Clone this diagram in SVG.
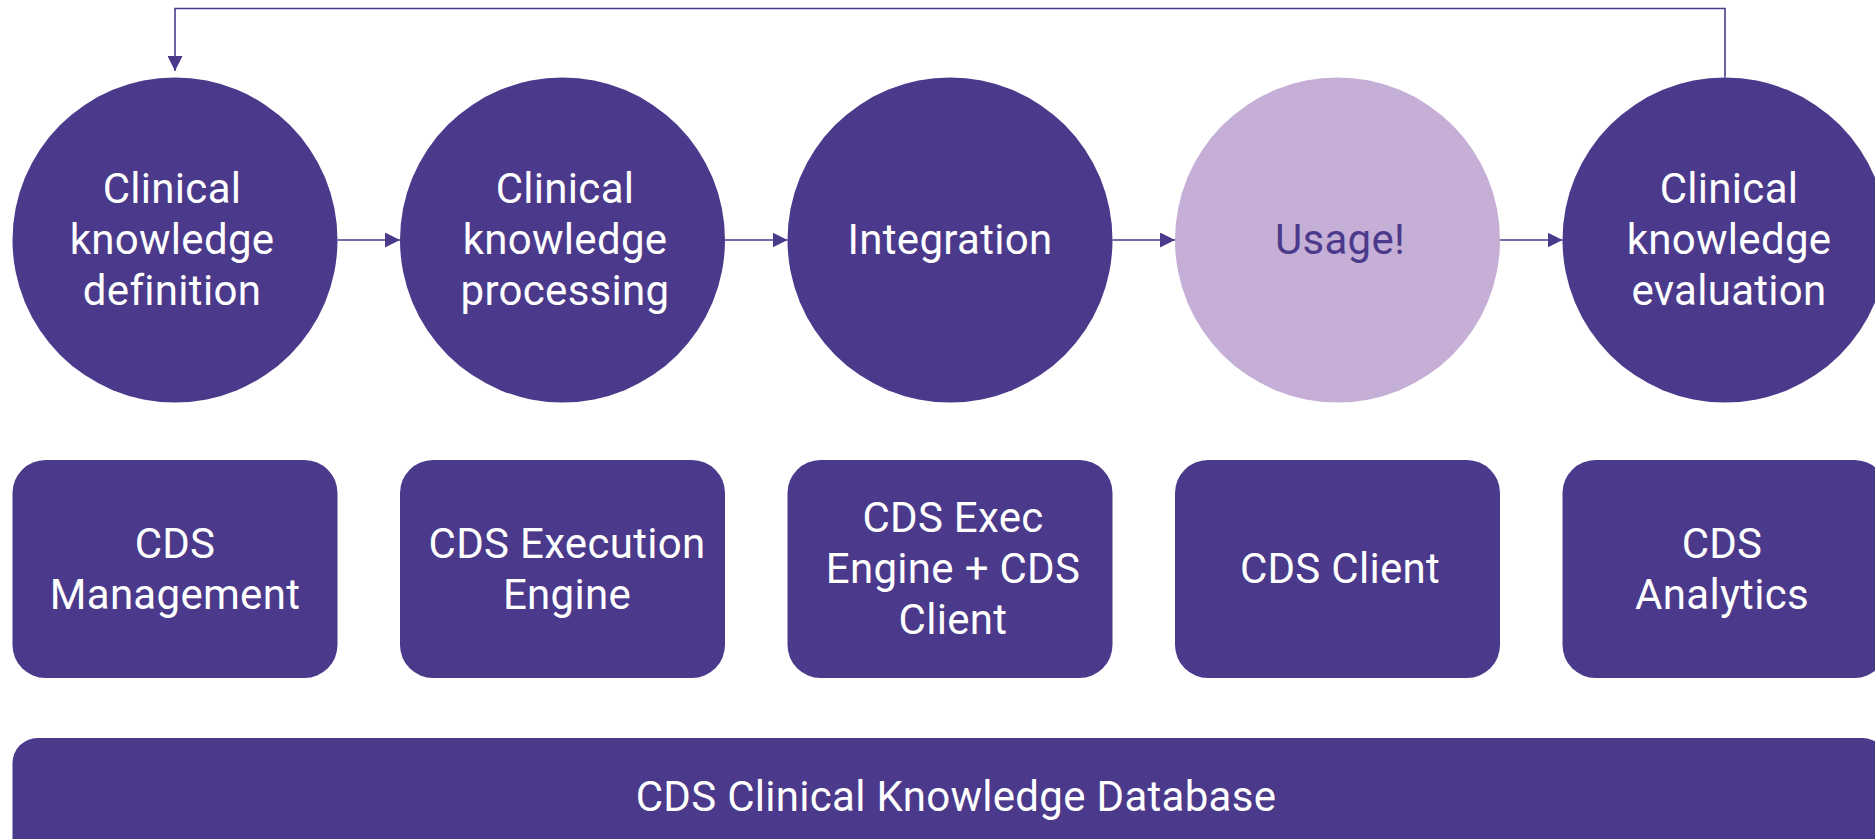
<svg xmlns="http://www.w3.org/2000/svg" width="1875" height="839" viewBox="0 0 1875 839">
<style>
.c{fill:#4B3A8B}
.u{fill:#C5AFD6}
.b{fill:#4B3A8B}
.t{font-family:Roboto,"Liberation Sans",sans-serif;font-size:42px;letter-spacing:0.3px;fill:#FFFFFF;text-anchor:middle}
.tu{font-family:Roboto,"Liberation Sans",sans-serif;font-size:42px;letter-spacing:0.3px;fill:#4B3A8B;text-anchor:middle}
.ln{fill:none;stroke:#4B3A8B;stroke-width:1.6}
</style>
<defs>
<marker id="ah" viewBox="0 0 10 10" refX="10" refY="5" markerUnits="userSpaceOnUse" markerWidth="15" markerHeight="15" orient="auto">
<path d="M0,0 L10,5 L0,10 z" fill="#4B3A8B"/>
</marker>
</defs>
<rect width="1875" height="839" fill="#FFFFFF"/>
<g id="connectors">
<path class="ln" d="M337.5,240 H400" marker-end="url(#ah)"/>
<path class="ln" d="M725,240 H787.5" marker-end="url(#ah)"/>
<path class="ln" d="M1112.5,240 H1175" marker-end="url(#ah)"/>
<path class="ln" d="M1500,240 H1562.5" marker-end="url(#ah)"/>
<path class="ln" d="M1725,77.5 V8.5 H175 V71" marker-end="url(#ah)"/>
</g>
<g id="n1">
<circle class="c" cx="175" cy="240" r="162.5"/>
<text class="t" x="172" y="202.5">Clinical</text>
<text class="t" x="172" y="254">knowledge</text>
<text class="t" x="172" y="305">definition</text>
</g>
<g id="n2">
<circle class="c" cx="562.5" cy="240" r="162.5"/>
<text class="t" x="565" y="202.5">Clinical</text>
<text class="t" x="565" y="254">knowledge</text>
<text class="t" x="565" y="305">processing</text>
</g>
<g id="n3">
<circle class="c" cx="950" cy="240" r="162.5"/>
<text class="t" x="950" y="254">Integration</text>
</g>
<g id="n4">
<circle class="u" cx="1337.5" cy="240" r="162.5"/>
<text class="tu" x="1340" y="254">Usage!</text>
</g>
<g id="n5">
<circle class="c" cx="1725" cy="240" r="162.5"/>
<text class="t" x="1729" y="202.5">Clinical</text>
<text class="t" x="1729" y="254">knowledge</text>
<text class="t" x="1729" y="305">evaluation</text>
</g>
<g id="b1">
<rect class="b" x="12.5" y="460" width="325" height="218" rx="33"/>
<text class="t" x="175" y="558">CDS</text>
<text class="t" x="175" y="608.5">Management</text>
</g>
<g id="b2">
<rect class="b" x="400" y="460" width="325" height="218" rx="33"/>
<text class="t" x="567" y="558">CDS Execution</text>
<text class="t" x="567" y="608.5">Engine</text>
</g>
<g id="b3">
<rect class="b" x="787.5" y="460" width="325" height="218" rx="33"/>
<text class="t" x="953" y="532">CDS Exec</text>
<text class="t" x="953" y="583">Engine + CDS</text>
<text class="t" x="953" y="634">Client</text>
</g>
<g id="b4">
<rect class="b" x="1175" y="460" width="325" height="218" rx="33"/>
<text class="t" x="1340" y="583">CDS Client</text>
</g>
<g id="b5">
<rect class="b" x="1562.5" y="460" width="325" height="218" rx="33"/>
<text class="t" x="1722" y="558">CDS</text>
<text class="t" x="1722" y="608.5">Analytics</text>
</g>
<g id="db">
<rect class="b" x="12.5" y="738" width="1875" height="150" rx="25"/>
<text class="t" x="956" y="811">CDS Clinical Knowledge Database</text>
</g>
</svg>
